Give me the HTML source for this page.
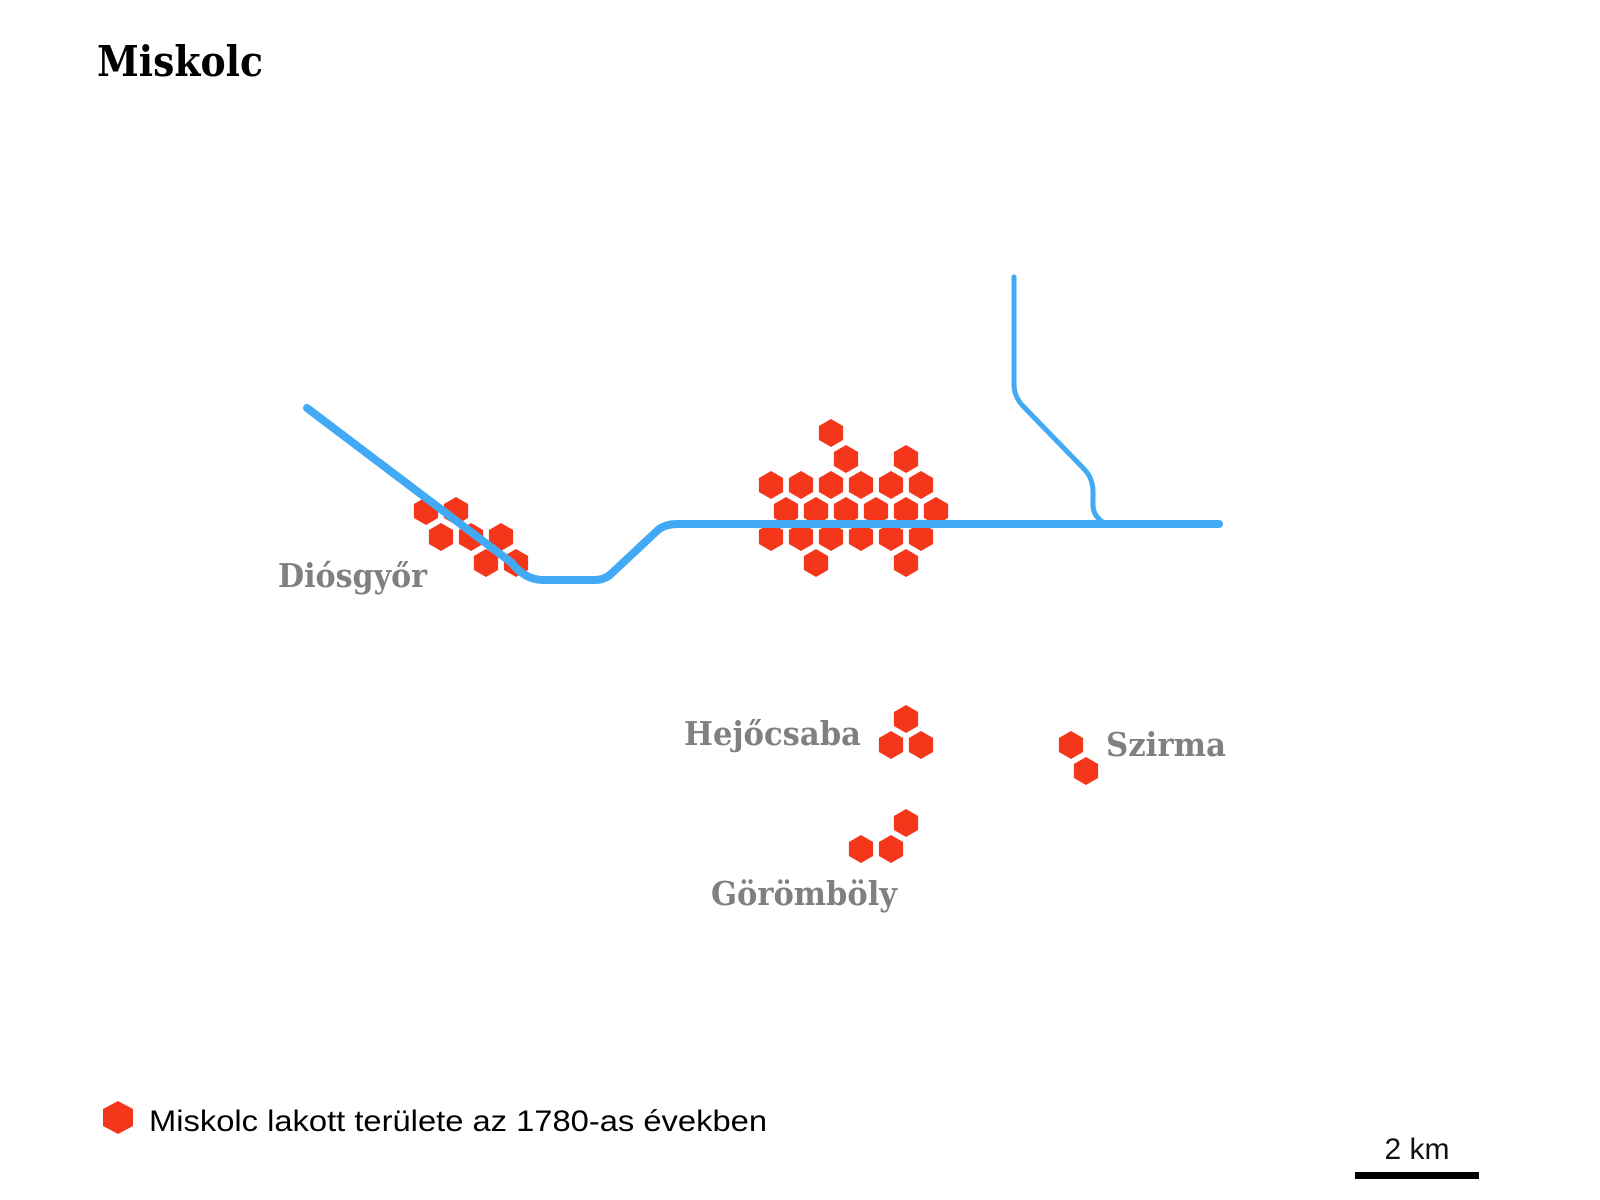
<!DOCTYPE html>
<html><head><meta charset="utf-8"><style>
html,body{margin:0;padding:0;background:#fff;}
svg{display:block;}
.lbl{font-family:"DejaVu Serif","Liberation Serif",serif;font-weight:bold;fill:#808080;font-size:33px;}
</style></head><body>
<svg id="map" width="1600" height="1200" viewBox="0 0 1600 1200" xmlns="http://www.w3.org/2000/svg">
<text x="97" y="76" font-family="DejaVu Serif, Liberation Serif, serif" font-weight="bold" font-size="42" textLength="166" lengthAdjust="spacingAndGlyphs" fill="#000">Miskolc</text>
<g id="hexes"></g>
<path d="M307,408 L512,563 Q524,579 542,580 L595,580 Q605,580 612,573 L658,530 Q665,524 678,524 L1219,524" fill="none" stroke="#42a9f4" stroke-width="8" stroke-linecap="round" stroke-linejoin="round"/>
<path d="M1014,277 L1014,384 Q1014,396 1022,405 L1085,470 Q1093,479 1093,492 L1093,505 Q1093,517 1106,524" fill="none" stroke="#42a9f4" stroke-width="5" stroke-linecap="round"/>
<text class="lbl" x="278" y="587" textLength="149" lengthAdjust="spacingAndGlyphs">Diósgyőr</text>
<text class="lbl" x="684" y="745" textLength="177" lengthAdjust="spacingAndGlyphs">Hejőcsaba</text>
<text class="lbl" x="1106" y="756" textLength="120" lengthAdjust="spacingAndGlyphs">Szirma</text>
<text class="lbl" x="711" y="905" textLength="186" lengthAdjust="spacingAndGlyphs">Görömböly</text>
<polygon points="118,1101 133,1109 133,1126 118,1134 103,1126 103,1109" fill="#f4361b"/>
<text x="149" y="1131" font-family="Liberation Sans, sans-serif" font-size="30" textLength="618" lengthAdjust="spacingAndGlyphs" fill="#000">Miskolc lakott területe az 1780-as években</text>
<text x="1417" y="1159" text-anchor="middle" font-family="Liberation Sans, sans-serif" font-size="30" fill="#111">2 km</text>
<rect x="1355" y="1172" width="124" height="7" fill="#000"/>
</svg>
<script>
// hex grid coordinates: q = half-column index, r = row index
const hexQ = [4, 5,9, 0,2,4,6,8,10, 1,3,5,7,9,11, 0,2,4,6,8,10, 3,9,
  -23,-21, -22,-20,-18, -19,-17,
  9, 8,10,
  20, 21,
  9, 6,8];
const hexR = [0, 1,1, 2,2,2,2,2,2, 3,3,3,3,3,3, 4,4,4,4,4,4, 5,5,
  3,3, 4,4,4, 5,5,
  11, 12,12,
  12, 13,
  15, 16,16];
const x0 = 771, y0 = 433, dx = 15, dy = 26, R = 14;
function xPos(q){ return x0 + dx*q; }
function yPos(r){ return y0 + dy*r; }
const g = document.getElementById('hexes');
const NS = 'http://www.w3.org/2000/svg';
for (let i = 0; i < hexQ.length; i++) {
  const cx = xPos(hexQ[i]), cy = yPos(hexR[i]);
  const pts = [];
  for (let k = 0; k < 6; k++) {
    const a = Math.PI/180*(60*k - 90);
    pts.push((cx + R*Math.cos(a)).toFixed(1) + ',' + (cy + R*Math.sin(a)).toFixed(1));
  }
  const p = document.createElementNS(NS, 'polygon');
  p.setAttribute('points', pts.join(' '));
  p.setAttribute('fill', '#f4361b');
  
  
  g.appendChild(p);
}
</script>
</body></html>
